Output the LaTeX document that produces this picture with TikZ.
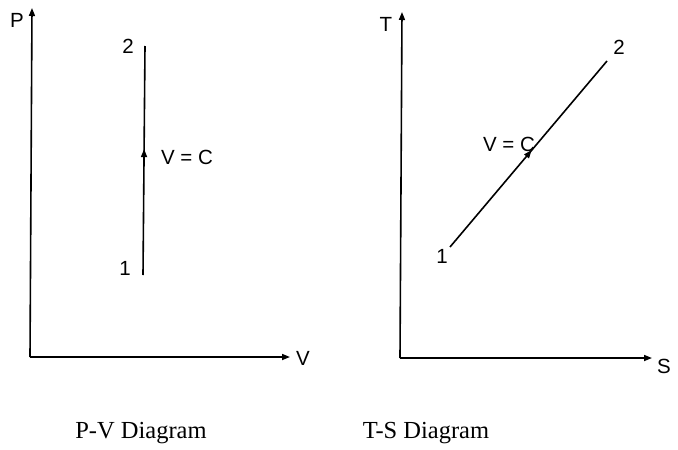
\documentclass[tikz,border=0pt]{standalone}
\usepackage{fontspec}
\setmainfont{Liberation Serif}
\newfontfamily\lsans{Liberation Sans}
\usetikzlibrary{arrows.meta,decorations.markings}
\tikzset{
  axis/.style={line width=1.6pt, -{Triangle[length=8pt,width=6pt]}},
  process/.style={line width=1.6pt,
    postaction={decorate},
    decoration={markings, mark=at position #1 with {\arrow{Triangle[length=8pt,width=6pt]}}}},
  lbl/.style={font=\lsans\fontsize{20.5}{24}\selectfont, inner sep=0pt},
  captiontext/.style={font=\fontsize{24.5}{28}\selectfont, inner sep=0pt}
}
\begin{document}
\begin{tikzpicture}[x=1pt,y=-1pt]
\useasboundingbox (0,0) rectangle (678,450);
% P-V diagram
\coordinate (o1) at (30,357);
\coordinate (ptop) at (32,8);
\coordinate (vend) at (290,357);
\draw[axis] (o1) -- (ptop);
\draw[axis] (o1) -- (vend);
\node[lbl] (P) at (17,20) {P};
\node[lbl] (V) at (303,358) {V};
\coordinate (a1) at (143,275);
\coordinate (a2) at (145,46);
\draw[process=0.55] (a1) -- (a2);
\node[lbl] (n2a) at (128,46) {2};
\node[lbl] (n1a) at (125,268) {1};
\node[lbl] (vca) at (187,157) {V = C};
% T-S diagram
\coordinate (o2) at (400,358);
\coordinate (ttop) at (402,12);
\coordinate (send) at (652,358);
\draw[axis] (o2) -- (ttop);
\draw[axis] (o2) -- (send);
\node[lbl] (T) at (386,24) {T};
\node[lbl] (S) at (664,366) {S};
\coordinate (b1) at (450,247);
\coordinate (b2) at (607,61);
\draw[process=0.52] (b1) -- (b2);
\node[lbl] (n2b) at (619,47) {2};
\node[lbl] (n1b) at (442,256) {1};
\node[lbl] (vcb) at (509,144) {V = C};
% captions
\node[captiontext] (c1) at (141,433) {P-V Diagram};
\node[captiontext] (c2) at (426,433) {T-S Diagram};
\end{tikzpicture}
\end{document}
